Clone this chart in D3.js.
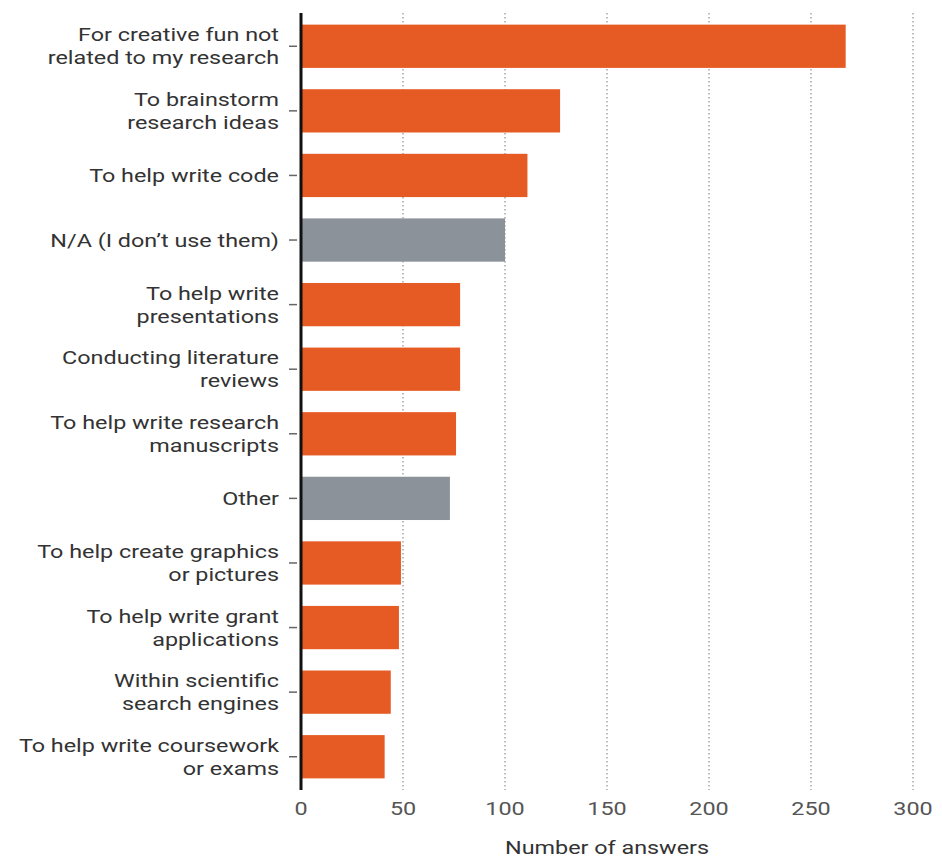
<!DOCTYPE html>
<html lang="en">
<head>
<meta charset="UTF-8">
<title>Uses of AI tools</title>
<script src="https://d3js.org/d3.v7.min.js"></script>
<style>
  body { margin: 0; background: #fff; }
  text { font-family: Roboto, "Liberation Sans", sans-serif; }
</style>
</head>
<body>
<script>
// categories, top to bottom ("\n" marks the label line break)
var categories = [
  "For creative fun not\nrelated to my research",
  "To brainstorm\nresearch ideas",
  "To help write code",
  "N/A (I don\u2019t use them)",
  "To help write\npresentations",
  "Conducting literature\nreviews",
  "To help write research\nmanuscripts",
  "Other",
  "To help create graphics\nor pictures",
  "To help write grant\napplications",
  "Within scientific\nsearch engines",
  "To help write coursework\nor exams"
];
var answers = [267, 127, 111, 100, 78, 78, 76, 73, 49, 48, 44, 41];
// grey bars are the non-use answers
var greyCats = ["N/A (I don\u2019t use them)", "Other"];
var xTicks = [0, 50, 100, 150, 200, 250, 300];

var margin = {top: 13, right: 29, bottom: 67, left: 301},
  width = 942 - margin.left - margin.right,
  height = 857 - margin.top - margin.bottom;

// the original typeface is wider than Roboto, so text gets stretched a bit
var stretch = 1.23;

var svg = d3.select("body").append("svg")
  .attr("width", 942)
  .attr("height", 857);

var g = svg.append("g")
  .attr("transform", "translate(" + margin.left + "," + margin.top + ")");

var x = d3.scaleLinear().domain([0, 300]).range([0, width]);
var y = d3.scaleBand().domain(categories).range([0, height])
  .paddingInner(0.33).paddingOuter(0.18);

// dotted gridlines
g.selectAll(".grid")
  .data(xTicks.slice(1))
  .enter().append("line")
  .attr("x1", d => x(d)).attr("x2", d => x(d))
  .attr("y1", 0).attr("y2", height)
  .attr("stroke", "#7a7a7a")
  .attr("stroke-width", 1)
  .attr("stroke-dasharray", "1.5,2.5");

// bars
g.selectAll(".bar")
  .data(categories)
  .enter().append("rect")
  .attr("x", 0)
  .attr("y", d => y(d))
  .attr("width", (d, i) => x(answers[i]))
  .attr("height", y.bandwidth())
  .attr("fill", d => greyCats.includes(d) ? "#8b9299" : "#e65a24");

// y axis: tick marks + wrapped labels
var yAx = g.append("g");
yAx.selectAll("line.tick")
  .data(categories)
  .enter().append("line")
  .attr("x1", -12).attr("x2", -4)
  .attr("y1", d => y(d) + y.bandwidth() / 2)
  .attr("y2", d => y(d) + y.bandwidth() / 2)
  .attr("stroke", "#666").attr("stroke-width", 1.5);

yAx.selectAll("g.lab")
  .data(categories)
  .enter().append("g")
  .attr("transform", d => "translate(-22," + (y(d) + y.bandwidth() / 2) + ") scale(" + stretch + ",1)")
  .append("text")
  .attr("text-anchor", "end")
  .attr("fill", "#333")
  .style("font-size", "19px")
  .each(function(d) {
    var lines = d.split("\n");
    var t = d3.select(this);
    lines.forEach(function(l, k) {
      t.append("tspan")
        .attr("x", 0)
        .attr("y", (k - (lines.length - 1) / 2) * 23)
        .attr("dy", "0.35em")
        .text(l);
    });
  });

// axis line
g.append("line")
  .attr("x1", 0).attr("x2", 0)
  .attr("y1", 0).attr("y2", height)
  .attr("stroke", "#111").attr("stroke-width", 3);

// x tick labels
g.selectAll(".xlab")
  .data(xTicks)
  .enter().append("g")
  .attr("transform", d => "translate(" + x(d) + "," + (height + 18) + ") scale(" + stretch + ",1)")
  .append("text")
  .attr("dy", "0.35em")
  .attr("text-anchor", "middle")
  .attr("fill", "#555")
  .style("font-size", "19px")
  .text(d => d);

// axis title
g.append("g")
  .attr("transform", "translate(" + x(150) + "," + (height + 57) + ") scale(" + stretch + ",1)")
  .append("text")
  .attr("dy", "0.35em")
  .attr("text-anchor", "middle")
  .attr("fill", "#333")
  .style("font-size", "19px")
  .text("Number of answers");
</script>
</body>
</html>
